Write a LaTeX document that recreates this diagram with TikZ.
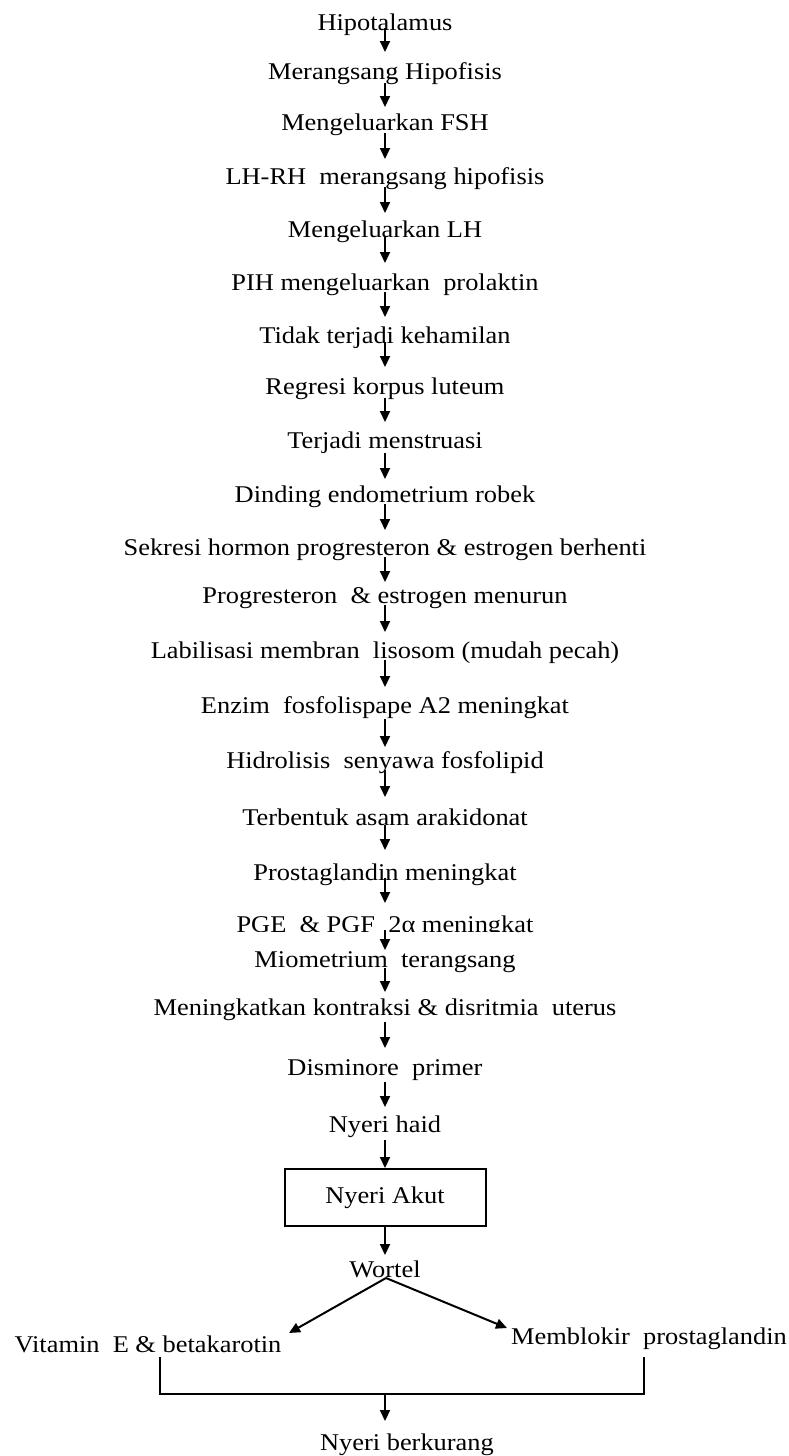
\documentclass[tikz,border=0pt]{standalone}
\usepackage{fontspec}
\setmainfont{Liberation Serif}[FakeStretch=1.1]
\usetikzlibrary{arrows.meta}
\begin{document}
\begin{tikzpicture}[x=1pt,y=-1pt,
  txt/.style={anchor=base,inner sep=0pt,font=\fontsize{24}{28}\selectfont},
  arr/.style={line width=2pt,-{Triangle[length=11pt,width=10pt]}},
  ln/.style={line width=2pt}]
\useasboundingbox (0,0) rectangle (789,1456);
\node[txt] (n1) at (385,30) {Hipotalamus};
\node[txt] (n2) at (385,79) {Merangsang Hipofisis};
\node[txt] (n3) at (385,130) {Mengeluarkan FSH};
\node[txt] (n4) at (385,184) {LH-RH~~merangsang hipofisis};
\node[txt] (n5) at (385,237) {Mengeluarkan LH};
\node[txt] (n6) at (385,290) {PIH mengeluarkan~~prolaktin};
\node[txt] (n7) at (385,343) {Tidak terjadi kehamilan};
\node[txt] (n8) at (385,394) {Regresi korpus luteum};
\node[txt] (n9) at (385,448) {Terjadi menstruasi};
\node[txt] (n10) at (385,502) {Dinding endometrium robek};
\node[txt] (n11) at (385,555) {Sekresi hormon progresteron \& estrogen berhenti};
\node[txt] (n12) at (385,603) {Progresteron~~\& estrogen menurun};
\node[txt] (n13) at (385,658) {Labilisasi membran~~lisosom (mudah pecah)};
\node[txt] (n14) at (385,713) {Enzim~~fosfolispape A2 meningkat};
\node[txt] (n15) at (385,768) {Hidrolisis~~senyawa fosfolipid};
\node[txt] (n16) at (385,825) {Terbentuk asam arakidonat};
\node[txt] (n17) at (385,880) {Prostaglandin meningkat};
\node[txt] (n18) at (385,932) {PGE~~\& PGF~~2α meningkat};
\node[txt,fill=white,text height=35pt,minimum width=250pt] (n19) at (385,967) {Miometrium~~terangsang};
\node[txt] (n20) at (385,1015) {Meningkatkan kontraksi \& disritmia~~uterus};
\node[txt] (n21) at (385,1075) {Disminore~~primer};
\node[txt] (n22) at (385,1132) {Nyeri haid};
\node[draw,line width=2pt,minimum width=201pt,minimum height=57pt,inner sep=0pt,
      font=\fontsize{24}{28}\selectfont] (box) at (385,1197.5) {Nyeri Akut};
\node[txt] (w) at (385,1277) {Wortel};
\node[txt] (vit) at (148,1352) {Vitamin~~E \& betakarotin};
\node[txt] (mem) at (649,1344) {Memblokir~~prostaglandin};
\node[txt] (end) at (407,1450) {Nyeri berkurang};

\foreach \a/\b/\s/\e in {n1/n2/2/27, n2/n3/-4/23, n3/n4/-3/25, n4/n5/-3/24,
  n5/n6/0/27, n6/n7/-2/26, n7/n8/1/27, n8/n9/-4/26, n9/n10/-5/23,
  n10/n11/-2/25, n11/n12/-2/21, n12/n13/-2/26, n13/n14/-2/26,
  n14/n15/-6/21, n15/n16/-2/28, n16/n17/0/30, n17/n18/2/29,
  n18/n19/2/17, n19/n20/-1/23, n20/n21/-7/27, n21/n22/-7/25}
  \draw[arr] ([yshift=\s pt]\a.base) -- ([yshift=\e pt]\b.base);
\draw[arr] ([yshift=-8pt]n22.base) -- (box.north);
\draw[arr] (box.south) -- ([yshift=22pt]w.base);

\coordinate (fork) at (386,1278);
\coordinate (vtip) at (289,1333);
\coordinate (mtip) at (507,1328);
\draw[arr] (fork) -- (vtip);
\draw[arr] (fork) -- (mtip);

\coordinate (bl) at (160,1357);
\coordinate (br) at (644,1357);
\coordinate (bm) at (385,1394);
\coordinate (btip) at (385,1421);
\draw[ln] (bl) -- (bl |- bm) -- (br |- bm) -- (br);
\draw[arr] (bm) -- (btip);
\end{tikzpicture}
\end{document}
